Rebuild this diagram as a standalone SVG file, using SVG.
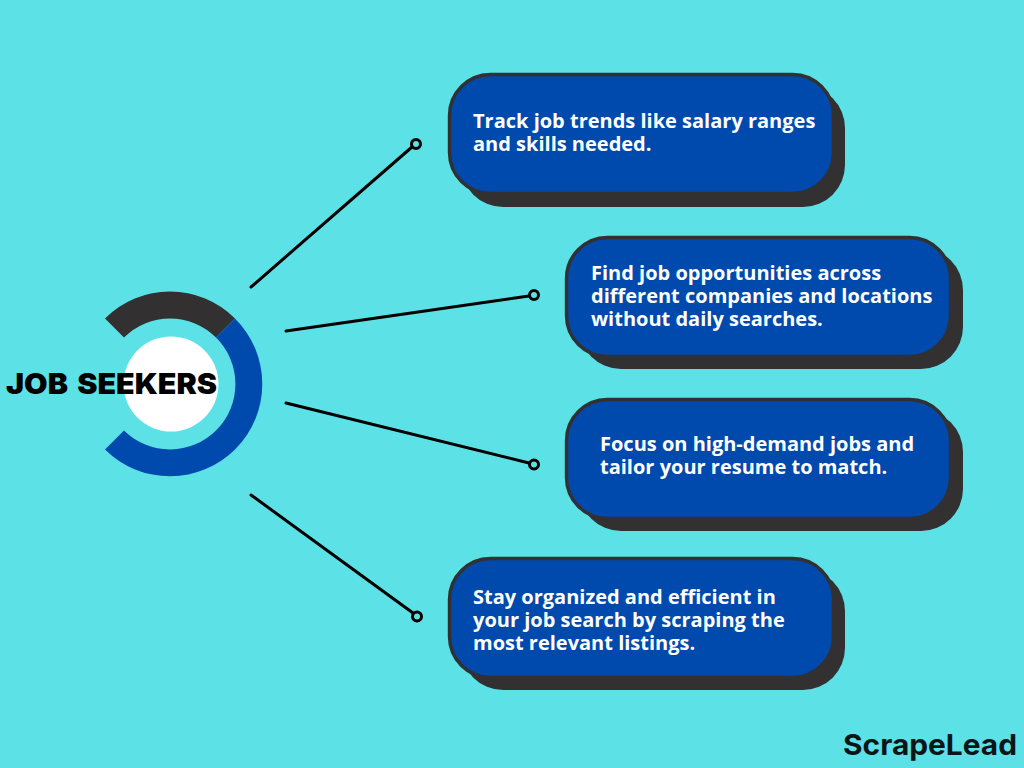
<svg xmlns="http://www.w3.org/2000/svg" width="1024" height="768" viewBox="0 0 1024 768">
<defs>
<style>
.shadow{fill:#323031}
.card{fill:#004aad;stroke:#323031;stroke-width:3.4}
.t{font-family:"Open Sans","Liberation Sans",sans-serif;font-weight:700;font-size:20px;fill:#fff}
.ln{stroke:#000;stroke-width:3;fill:none;stroke-linecap:round}
.dot{fill:none;stroke:#000;stroke-width:3}
</style>
</defs>
<rect width="1024" height="768" fill="#5ce1e6"/>
<g id="hub">
<path d="M235 318.5A92 92 0 0 0 105 318.5L124 337.5A65 65 0 0 1 216 337.5Z" fill="#323031"/>
<path d="M235 318.5A92 92 0 1 1 105 449.5L124 430.5A65 65 0 1 0 216 337.5Z" fill="#004aad"/>
<circle cx="171" cy="384" r="47.5" fill="#fff"/>
<text x="6" y="394" font-family="Inter,'Liberation Sans',sans-serif" font-weight="900" font-size="28.5" word-spacing="3" fill="#000" textLength="211" lengthAdjust="spacingAndGlyphs">JOB SEEKERS</text>
</g>
<g id="connectors">
<path class="ln" d="M251 287L412 147"/><circle class="dot" cx="416" cy="144" r="4.5"/>
<path class="ln" d="M286 331L529 296"/><circle class="dot" cx="534" cy="295" r="4.5"/>
<path class="ln" d="M286 403L529 463"/><circle class="dot" cx="534" cy="464.5" r="4.5"/>
<path class="ln" d="M251 495L413 613"/><circle class="dot" cx="417" cy="616.5" r="4.5"/>
</g>
<g id="card1">
<rect class="shadow" x="461" y="86" width="384" height="121" rx="42"/>
<rect class="card" x="449.5" y="74.5" width="384" height="119" rx="41"/>
<text class="t"><tspan x="473" y="128">Track job trends like salary ranges</tspan><tspan x="473" y="151">and skills needed.</tspan></text>
</g>
<g id="card2">
<rect class="shadow" x="579" y="248" width="384" height="121" rx="42"/>
<rect class="card" x="566.5" y="237.5" width="384" height="119" rx="41"/>
<text class="t"><tspan x="591" y="280">Find job opportunities across</tspan><tspan x="591" y="303">different companies and locations</tspan><tspan x="591" y="326">without daily searches.</tspan></text>
</g>
<g id="card3">
<rect class="shadow" x="579" y="410" width="384" height="121" rx="42"/>
<rect class="card" x="566.5" y="399.5" width="384" height="119" rx="41"/>
<text class="t"><tspan x="600" y="451">Focus on high-demand jobs and</tspan><tspan x="600" y="474">tailor your resume to match.</tspan></text>
</g>
<g id="card4">
<rect class="shadow" x="461" y="569" width="384" height="121" rx="42"/>
<rect class="card" x="449.5" y="558.5" width="384" height="119" rx="41"/>
<text class="t"><tspan x="473" y="604">Stay organized and efficient in</tspan><tspan x="473" y="627">your job search by scraping the</tspan><tspan x="473" y="650">most relevant listings.</tspan></text>
</g>
<g id="logo">
<text x="843" y="755" font-family="Inter,'Liberation Sans',sans-serif" font-weight="700" font-size="29" fill="#0c1618" textLength="174" lengthAdjust="spacingAndGlyphs">ScrapeLead</text>
</g>
</svg>
